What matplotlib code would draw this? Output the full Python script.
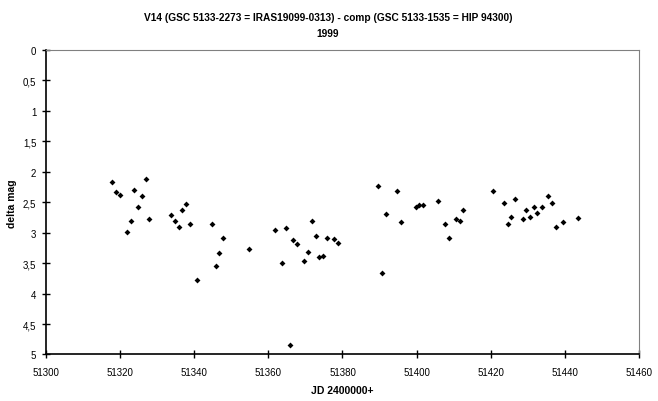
import matplotlib.pyplot as plt

# light curve V14 - comp, 1999
jd = [51317.9, 51319.0, 51320.0, 51321.9, 51322.9, 51323.8, 51324.9, 51326.0,
      51327.1, 51327.9, 51333.7, 51334.9, 51336.0, 51336.8, 51337.9, 51338.9,
      51340.8, 51344.9, 51346.0, 51346.8, 51347.8, 51354.9, 51361.9, 51363.8,
      51364.8, 51365.9, 51366.7, 51367.8, 51369.7, 51370.8, 51371.9, 51372.9,
      51373.7, 51374.8, 51375.9, 51377.8, 51378.9, 51389.7, 51390.7, 51391.8,
      51394.8, 51395.9, 51399.7, 51400.7, 51401.8, 51405.9, 51407.7, 51408.8,
      51410.7, 51411.8, 51412.6, 51420.7, 51423.7, 51424.7, 51425.6, 51426.6,
      51428.8, 51429.6, 51430.7, 51431.8, 51432.6, 51433.7, 51435.5, 51436.6,
      51437.7, 51439.6, 51443.6]
dmag = [2.16, 2.33, 2.38, 2.99, 2.80, 2.30, 2.57, 2.40,
        2.12, 2.78, 2.71, 2.80, 2.91, 2.63, 2.53, 2.85,
        3.77, 2.86, 3.55, 3.34, 3.08, 3.27, 2.96, 3.50,
        2.93, 4.85, 3.12, 3.19, 3.47, 3.31, 2.80, 3.06,
        3.40, 3.39, 3.08, 3.11, 3.17, 2.24, 3.67, 2.70,
        2.32, 2.83, 2.58, 2.55, 2.55, 2.48, 2.86, 3.09,
        2.78, 2.81, 2.62, 2.32, 2.52, 2.86, 2.75, 2.44,
        2.78, 2.63, 2.75, 2.57, 2.67, 2.57, 2.39, 2.52,
        2.91, 2.83, 2.76]

xticks = [51300, 51320, 51340, 51360, 51380, 51400, 51420, 51440, 51460]
yticks = [0, 0.5, 1, 1.5, 2, 2.5, 3, 3.5, 4, 4.5, 5]

plt.rcParams['font.family'] = 'Liberation Sans'

fig = plt.figure(figsize=(6.58, 4.02), dpi=100)
ax = fig.add_axes([0.0699, 0.1157, 0.9012, 0.7574])

ax.plot(jd, dmag, 'D', color='black', markersize=3, markeredgewidth=0)

ax.set_xlim(51300, 51460)
ax.set_ylim(5, 0)
ax.set_xticks(xticks)
ax.set_yticks(yticks)
ax.set_yticklabels([('%g' % v).replace('.', ',') for v in yticks])
ax.tick_params(direction='inout', length=6, width=1, labelsize=7, pad=4)
ax.tick_params(axis='x', pad=6)

for side in ['top', 'right']:
    ax.spines[side].set_color('#808080')
for side in ['left', 'bottom']:
    ax.spines[side].set_linewidth(1.2)

ax.set_xlabel('JD 2400000+', fontsize=7.5, fontweight='bold', labelpad=6)
ax.set_ylabel('delta mag', fontsize=7.5, fontweight='bold', labelpad=4)

fig.text(0.4985, 0.955, 'V14 (GSC 5133-2273 = IRAS19099-0313) - comp (GSC 5133-1535 = HIP 94300)',
         ha='center', va='center', fontsize=7.3, fontweight='bold')
fig.text(0.4985, 0.915, '1999', ha='center', va='center', fontsize=7.3, fontweight='bold')

fig.savefig('out.png', dpi=100)
